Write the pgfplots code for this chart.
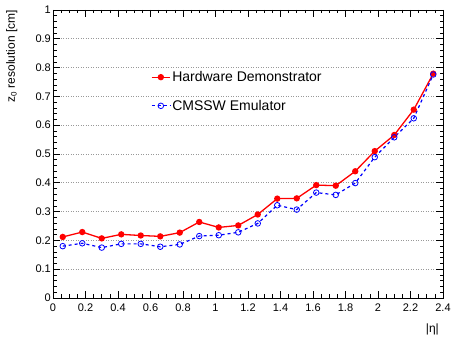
\documentclass[border=0pt]{standalone}
\usepackage{fontspec}
\setmainfont{Liberation Sans}
\usepackage{pgfplots}
\pgfplotsset{compat=1.18}
\definecolor{rred}{RGB}{255,0,0}
\definecolor{rblue}{RGB}{0,0,255}
\begin{document}
\begin{tikzpicture}[x=1pt,y=1pt]
\useasboundingbox (0,0) rectangle (452,342);
\begin{axis}[
  at={(53pt,44pt)}, anchor=south west,
  scale only axis, width=390pt, height=288pt,
  xmin=0, xmax=2.4, ymin=0, ymax=1,
  xtick={0,0.2,0.4,0.6,0.8,1,1.2,1.4,1.6,1.8,2,2.2,2.4},
  ytick={0,0.1,0.2,0.3,0.4,0.5,0.6,0.7,0.8,0.9,1},
  minor x tick num=3, minor y tick num=4,
  major tick length=7pt, minor tick length=3.5pt,
  tick style={black, line width=0.6pt},
  axis line style={black, line width=0.8pt},
  ymajorgrids,
  grid style={gray!80, line width=0.6pt, dash pattern=on 1pt off 1.5pt},
  /pgf/number format/assume math mode=true,
  ticklabel style={font=\fontsize{11}{13}\selectfont},
  xticklabel style={inner sep=0pt, yshift=-6pt},
  yticklabel style={inner sep=0pt, xshift=-2pt},
  ylabel={z\textsubscript{0} resolution [cm]},
  ylabel style={at={(rel axis cs:-0.091,1)}, anchor=south east, inner sep=0pt, font=\fontsize{12}{14}\selectfont},
  xlabel={|η|},
  xlabel style={at={(rel axis cs:1,0)}, anchor=north east, inner sep=0pt, yshift=-26pt, xshift=-4pt, font=\fontsize{12}{14}\selectfont},
  legend style={draw=none, fill=none, at={(0.2505,0.717)}, anchor=west, inner xsep=0pt,
    font=\fontsize{14}{16}\selectfont, row sep=14pt, nodes={inner sep=1.5pt}},
  legend cell align=left,
  legend image code/.code={\draw[mark repeat=2,mark phase=2] plot coordinates {(0pt,0pt) (9.3pt,0pt) (18.6pt,0pt)};},
]
\addplot[rred, line width=1.3pt, mark=*, mark size=2.5pt, mark options={solid, fill=rred}] coordinates {
(0.06,0.212) (0.18,0.229) (0.30,0.207) (0.42,0.221) (0.54,0.217) (0.66,0.214) (0.78,0.227) (0.90,0.264) (1.02,0.245) (1.14,0.252)
(1.26,0.290) (1.38,0.345) (1.50,0.346) (1.62,0.392) (1.74,0.390) (1.86,0.440) (1.98,0.510) (2.10,0.566) (2.22,0.654) (2.34,0.779)
};
\addlegendentry{Hardware Demonstrator}
\addplot[rblue, line width=1.2pt, dash pattern=on 3pt off 3pt, mark=o, mark size=2.8pt, mark options={solid, line width=0.8pt, fill=white}] coordinates {
(0.06,0.180) (0.18,0.190) (0.30,0.175) (0.42,0.188) (0.54,0.188) (0.66,0.178) (0.78,0.186) (0.90,0.215) (1.02,0.218) (1.14,0.228)
(1.26,0.259) (1.38,0.322) (1.50,0.307) (1.62,0.366) (1.74,0.358) (1.86,0.399) (1.98,0.489) (2.10,0.558) (2.22,0.624) (2.34,0.776)
};
\addlegendentry{CMSSW Emulator}
\end{axis}
\end{tikzpicture}
\end{document}
